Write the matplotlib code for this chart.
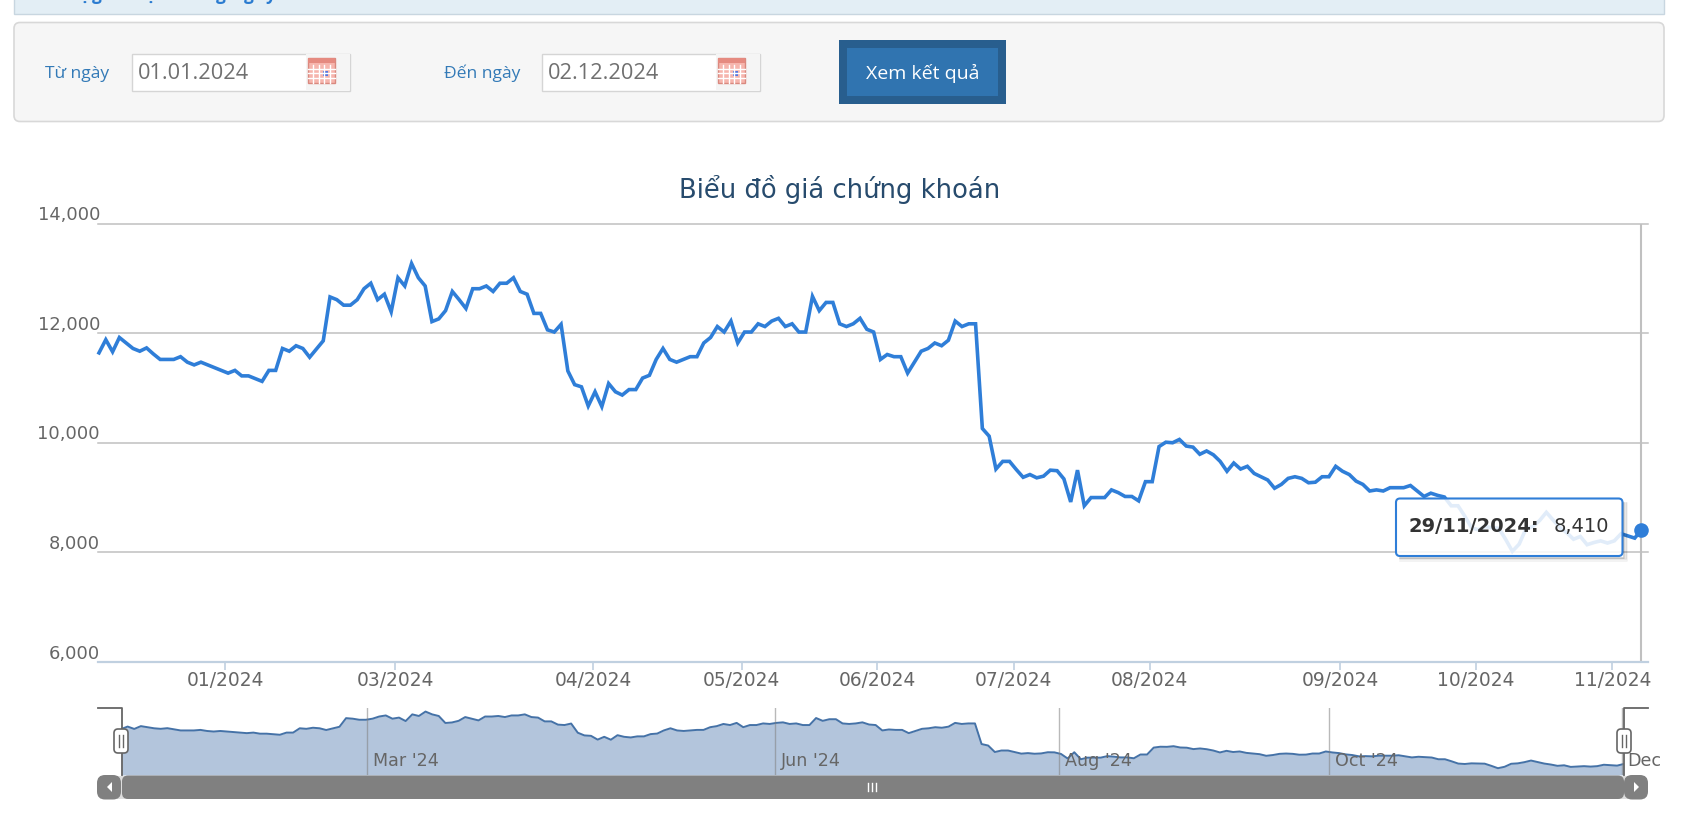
import numpy as np
import matplotlib
matplotlib.use('Agg')
import matplotlib.pyplot as plt
from matplotlib.patches import Rectangle, FancyBboxPatch, Polygon
from matplotlib.ticker import FuncFormatter

W, H = 1694, 819

# gia dong cua theo phien, doc tu hinh
gia = [
    11640, 11880, 11660, 11920, 11820, 11720, 11670, 11730, 11620, 11520,
    11520, 11520, 11570, 11470, 11420, 11470, 11420, 11370, 11320, 11270,
    11320, 11220, 11220, 11170, 11120, 11320, 11320, 11720, 11670, 11770,
    11720, 11560, 11710, 11860, 12660, 12610, 12510, 12510, 12610, 12810,
    12910, 12610, 12710, 12390, 13010, 12860, 13270, 13010, 12860, 12210,
    12260, 12410, 12760, 12610, 12450, 12810, 12810, 12860, 12760, 12910,
    12910, 13010, 12760, 12710, 12360, 12360, 12060, 12020, 12160, 11310,
    11060, 11020, 10670, 10930, 10660, 11080, 10930, 10870, 10970, 10970,
    11180, 11230, 11520, 11720, 11520, 11470, 11520, 11570, 11570, 11820,
    11920, 12120, 12020, 12220, 11820, 12020, 12020, 12170, 12120, 12220,
    12270, 12120, 12170, 12020, 12020, 12670, 12410, 12560, 12560, 12170,
    12120, 12170, 12270, 12070, 12020, 11520, 11610, 11570, 11570, 11270,
    11470, 11670, 11720, 11820, 11770, 11870, 12220, 12120, 12170, 12170,
    10260, 10120, 9520, 9660, 9660, 9510, 9370, 9420, 9360, 9390,
    9500, 9490, 9340, 8920, 9500, 8850, 9000, 9000, 9000, 9140,
    9090, 9020, 9020, 8940, 9290, 9290, 9930, 10010, 10000, 10060,
    9940, 9920, 9790, 9850, 9780, 9660, 9480, 9630, 9520, 9570,
    9440, 9380, 9320, 9170, 9240, 9350, 9380, 9350, 9270, 9280,
    9380, 9380, 9570, 9480, 9420, 9300, 9240, 9120, 9140, 9120,
    9180, 9180, 9180, 9220, 9120, 9020, 9080, 9040, 9010, 8850,
    8850, 8660, 8450, 8410, 8470, 8450, 8440, 8240, 8020, 8150,
    8430, 8470, 8580, 8730, 8590, 8450, 8360, 8240, 8290, 8140,
    8180, 8210, 8170, 8210, 8340, 8300, 8260, 8410,
]
phien = list(range(len(gia)))

tick_chinh = [18.6, 43.6, 72.7, 94.6, 114.5, 134.6, 154.6, 182.7, 202.6, 222.7]
nhan_chinh = ['01/2024', '03/2024', '04/2024', '05/2024', '06/2024',
              '07/2024', '08/2024', '09/2024', '10/2024', '11/2024']
tick_y = [6000, 8000, 10000, 12000, 14000]

tick_nav = [37.2, 98.8, 141.7, 182.5, 226.7]
nhan_nav = ["Mar '24", "Jun '24", "Aug '24", "Oct '24", "Dec"]

tu_ngay = '01.01.2024'
den_ngay = '02.12.2024'
ngay_cuoi = '29/11/2024:'
gia_cuoi = '8,410'

XANH = '#2f7ed8'
CHU = '#666666'


def khung(x0, y0, x1, y1):
    # doi toa do pixel (goc tren trai) sang toa do figure
    return [x0 / W, 1 - y1 / H, (x1 - x0) / W, (y1 - y0) / H]


fig = plt.figure(figsize=(W / 100, H / 100), dpi=100, facecolor='white')

# lop nen: thanh tren, form chon ngay
nen = fig.add_axes([0, 0, 1, 1], zorder=0)
nen.set_xlim(0, W)
nen.set_ylim(H, 0)
nen.axis('off')

nen.add_patch(Rectangle((14, -5), 1650, 19, fc='#e3eef5', ec='#c8d6e0', lw=1))
# dong chu o tren bi cat, chi con thay phan duoi cua vai chu
for cx, c in [(84, 'ạ'), (97, 'g'), (150, 'ạ'), (221, 'g'), (249, 'g'), (271, 'y')]:
    nen.text(cx, 0, c, fontsize=12.5, color='#2a7bd0', family='Open Sans', fontweight='bold',
             va='baseline', ha='center')
nen.add_patch(FancyBboxPatch((14, 22.5), 1650, 99, boxstyle='round,pad=0,rounding_size=6',
                             fc='#f6f6f6', ec='#d8d8d8', lw=1.2))


def o_ngay(x0, nhan, x_nhan, gia_tri):
    nen.text(x_nhan, 73.5, nhan, fontsize=12.6, color='#337ab7', family='Open Sans',
             va='center', ha='left')
    nen.add_patch(Rectangle((x0, 53.5), 218, 37, fc='white', ec='#d5d5d5', lw=1))
    nen.text(x0 + 6, 73.5, gia_tri, fontsize=15.7, color='#707070', family='Open Sans',
             va='center', ha='left')
    # icon lich
    ix = x0 + 176
    nen.add_patch(Rectangle((ix - 2, 54), 44, 36, fc='#f5f5f5', ec='none'))
    nen.add_patch(Rectangle((ix, 58), 27, 25, fc='#f6b5ad', ec='#d9897f', lw=1))
    nen.add_patch(Rectangle((ix, 58), 27, 5, fc='#e58a80', ec='none'))
    for i in range(1, 5):
        nen.plot([ix + i * 5.4] * 2, [65, 83], color='white', lw=1)
    for i in range(1, 4):
        nen.plot([ix, ix + 27], [64 + i * 4.7] * 2, color='white', lw=1)
    nen.add_patch(Rectangle((ix + 15, 71), 5, 5, fc='#5577dd', ec='none'))


o_ngay(132, 'Từ ngày', 45, tu_ngay)
o_ngay(542, 'Đến ngày', 444, den_ngay)

nen.add_patch(Rectangle((839, 40), 167, 64, fc='#285e8e', ec='none'))
nen.add_patch(Rectangle((847, 48), 151, 48, fc='#3074b0', ec='none'))
nen.text(922.5, 73, 'Xem kết quả', fontsize=14, color='white', family='Open Sans',
         va='center', ha='center')

# bieu do chinh
ax = fig.add_axes(khung(98, 223.5, 1648, 662), zorder=1)
ax.patch.set_alpha(0)
ax.plot(phien, gia, color=XANH, lw=2.6, solid_joinstyle='miter', zorder=3, clip_on=False)
ax.plot(phien[-1], gia[-1], 'o', color=XANH, ms=10.5, mew=0, zorder=4, clip_on=False)
ax.axvline(phien[-1], color='#c0c0c0', lw=1.5, zorder=2)
ax.set_xlim(-0.147, 227.96)
ax.set_ylim(6027, 14000)
ax.set_xticks(tick_chinh)
ax.set_xticklabels(nhan_chinh)
ax.set_yticks(tick_y)
ax.yaxis.set_major_formatter(FuncFormatter(lambda v, p: f'{int(v):,}'))
ax.grid(axis='y', color='#c0c0c0', lw=1.1, clip_on=False)
ax.set_axisbelow(True)
for s in ['top', 'left', 'right']:
    ax.spines[s].set_visible(False)
ax.spines['bottom'].set_color('#c0d0e0')
ax.spines['bottom'].set_linewidth(1.6)
ax.tick_params(axis='x', length=6, width=1.2, color='#c0d0e0', labelsize=13.4, labelcolor=CHU, pad=0.5)
ax.tick_params(axis='y', length=0, labelleft=False)
for v in tick_y:
    ax.annotate(f'{v:,}', xy=(0, v), xycoords=('axes fraction', 'data'), xytext=(1.5, -0.5),
                textcoords='offset points', ha='right', va='bottom', fontsize=12.9, color=CHU,
                annotation_clip=False)

nen.text(840, 189, 'Biểu đồ giá chứng khoán', fontsize=18.6, color='#274b6d',
         va='center', ha='center')

# dieu huong ben duoi
nav = fig.add_axes(khung(121, 708, 1623.7, 775), zorder=1)
nav.patch.set_alpha(0)
nav.fill_between(phien, gia, 7390, color='#b3c5dc', lw=0, zorder=1)
nav.plot(phien, gia, color='#4572a7', lw=1.4, zorder=2)
nav.set_xlim(0, 227)
nav.set_ylim(7390, 13600)
nav.set_yticks([])
nav.set_xticks([])
for s in nav.spines.values():
    s.set_visible(False)
for t, n in zip(tick_nav, nhan_nav):
    nav.axvline(t, color='#808080', lw=1, alpha=0.55, zorder=3)
    nav.annotate(n, xy=(t, 0), xycoords=('data', 'axes fraction'), xytext=(4, 3.5),
                 textcoords='offset points', fontsize=12.6, color=CHU, ha='left', va='bottom',
                 annotation_clip=False, zorder=4)

# lop tren: tooltip, con keo, thanh cuon
tren = fig.add_axes([0, 0, 1, 1], zorder=5)
tren.set_xlim(0, W)
tren.set_ylim(H, 0)
tren.axis('off')
tren.patch.set_alpha(0)

# bong cua tooltip, chi o canh duoi va canh phai
for d, a in [(1.5, 0.22), (3, 0.12), (4.5, 0.06)]:
    tren.plot([1400, 1622.5 + d, 1622.5 + d], [556 + d, 556 + d, 503], color='black', lw=1.1, alpha=a)
tren.add_patch(FancyBboxPatch((1396, 498.5), 226.5, 57.5, boxstyle='round,pad=0,rounding_size=4',
                              fc=(1, 1, 1, 0.86), ec=XANH, lw=1.5))
tren.text(1409, 527, ngay_cuoi, fontsize=14, fontweight='bold', color='#333333', va='center', ha='left')
tren.text(1554, 527, gia_cuoi, fontsize=14, color='#333333', va='center', ha='left')

tren.plot([98, 122, 122], [708, 708, 775], color='#666666', lw=1.3)
tren.plot([1648, 1624, 1624], [708, 708, 775], color='#666666', lw=1.3)
for cx in (121, 1624):
    tren.add_patch(FancyBboxPatch((cx - 7, 729), 14, 24, boxstyle='round,pad=0,rounding_size=4',
                                  fc='white', ec='#666666', lw=1.2, zorder=3))
    tren.plot([cx - 2, cx - 2], [735, 747], color='#666666', lw=1, zorder=4)
    tren.plot([cx + 2, cx + 2], [735, 747], color='#666666', lw=1, zorder=4)

# thanh cuon
tren.add_patch(Rectangle((108, 775.5), 1530, 23.5, fc='#dddddd', ec='none', zorder=1))
tren.add_patch(FancyBboxPatch((97, 775), 24, 24.5, boxstyle='round,pad=0,rounding_size=8',
                              fc='#808080', ec='none', zorder=2))
tren.add_patch(FancyBboxPatch((1624, 775), 24, 24.5, boxstyle='round,pad=0,rounding_size=8',
                              fc='#808080', ec='none', zorder=2))
tren.add_patch(FancyBboxPatch((122, 775.5), 1502, 23.5, boxstyle='round,pad=0,rounding_size=6',
                              fc='#808080', ec='none', zorder=2))
tren.add_patch(Polygon([(112, 782), (112, 792), (107, 787)], fc='white', ec='none', zorder=3))
tren.add_patch(Polygon([(1634, 782), (1634, 792), (1639, 787)], fc='white', ec='none', zorder=3))
for dx in (-4, 0, 4):
    tren.plot([872 + dx] * 2, [783, 791], color='white', lw=1, zorder=3)

fig.savefig('out.png', dpi=100)
